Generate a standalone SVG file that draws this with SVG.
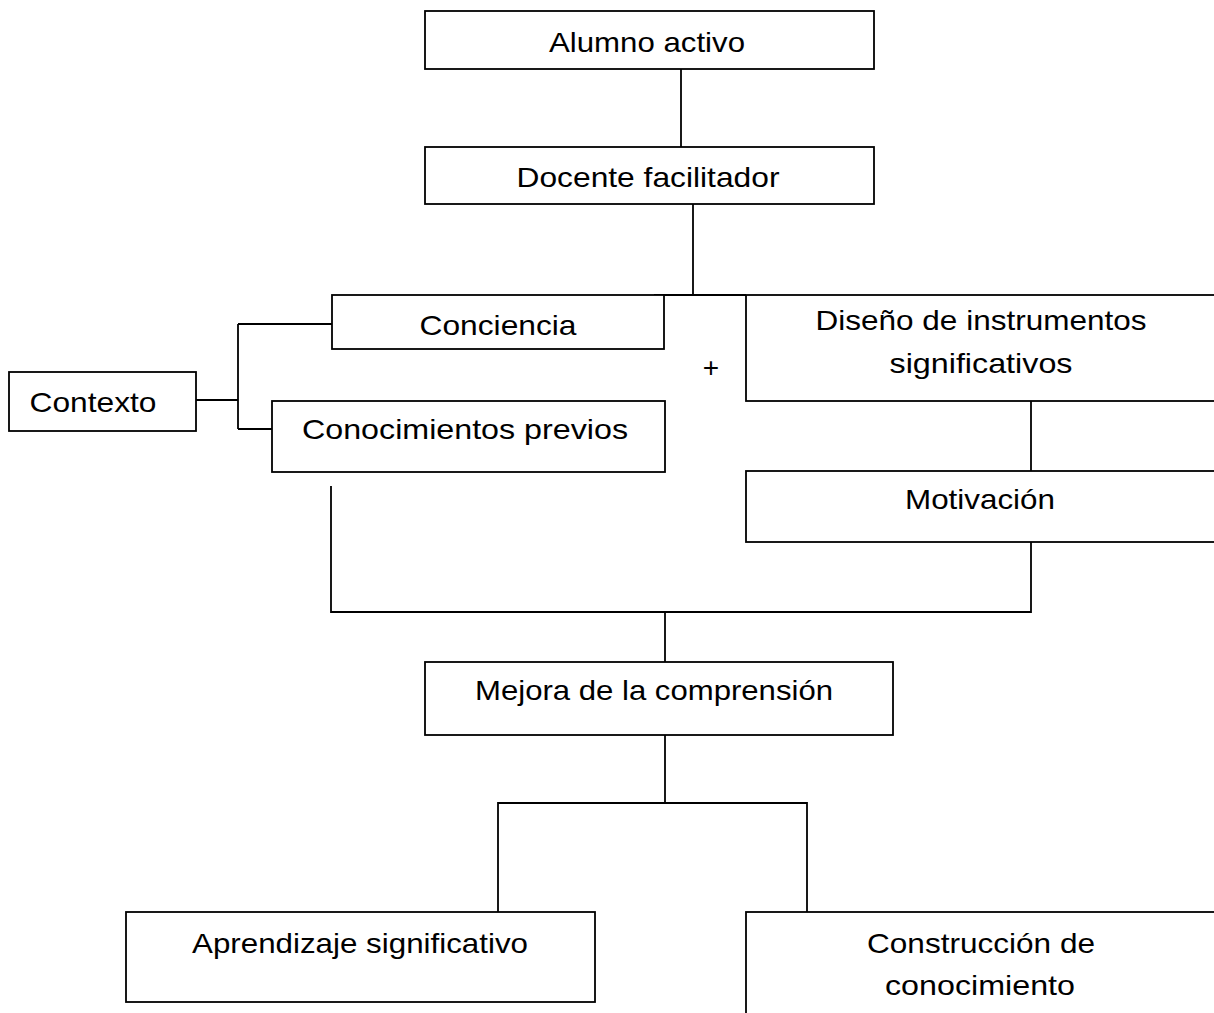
<svg xmlns="http://www.w3.org/2000/svg" width="1214" height="1013" viewBox="0 0 1214 1013">
<style>
.box{fill:#fff;stroke:#000;stroke-width:1.8}
.ln{fill:none;stroke:#000;stroke-width:1.8}
.t{font-family:"Liberation Sans",Arial,sans-serif;font-size:28px;fill:#000;text-anchor:middle}
</style>
<rect width="1214" height="1013" fill="#fff"/>
<g id="connectors">
<path class="ln" d="M681 69V147"/>
<path class="ln" d="M693 204V295"/>
<path class="ln" d="M654 295H746"/>
<path class="ln" d="M196 400H238M238 324V429M238 324H332M238 429H272"/>
<path class="ln" d="M1031 401V473"/>
<path class="ln" d="M331 486V612H1031V542"/>
<path class="ln" d="M665 612V662"/>
<path class="ln" d="M665 735V803"/>
<path class="ln" d="M498 912V803H807V912"/>
</g>
<g id="alumno"><rect class="box" x="425" y="11" width="449" height="58"/><text class="t" x="647" y="52" textLength="196" lengthAdjust="spacingAndGlyphs">Alumno activo</text></g>
<g id="docente"><rect class="box" x="425" y="147" width="449" height="57"/><text class="t" x="648" y="187" textLength="263" lengthAdjust="spacingAndGlyphs">Docente facilitador</text></g>
<g id="conciencia"><rect class="box" x="332" y="295" width="332" height="54"/><text class="t" x="498" y="335" textLength="157" lengthAdjust="spacingAndGlyphs">Conciencia</text></g>
<g id="diseno"><rect class="box" x="746" y="295" width="480" height="106"/><text class="t" x="981" y="330" textLength="331" lengthAdjust="spacingAndGlyphs">Diseño de instrumentos</text><text class="t" x="981" y="373" textLength="183" lengthAdjust="spacingAndGlyphs">significativos</text></g>
<g id="plus"><text class="t" x="711" y="377">+</text></g>
<g id="contexto"><rect class="box" x="9" y="372" width="187" height="59"/><text class="t" x="93" y="412" textLength="127" lengthAdjust="spacingAndGlyphs">Contexto</text></g>
<g id="conocimientos"><rect class="box" x="272" y="401" width="393" height="71"/><text class="t" x="465" y="439" textLength="326" lengthAdjust="spacingAndGlyphs">Conocimientos previos</text></g>
<g id="motivacion"><rect class="box" x="746" y="471" width="480" height="71"/><text class="t" x="980" y="509" textLength="150" lengthAdjust="spacingAndGlyphs">Motivación</text></g>
<g id="mejora"><rect class="box" x="425" y="662" width="468" height="73"/><text class="t" x="654" y="700" textLength="358" lengthAdjust="spacingAndGlyphs">Mejora de la comprensión</text></g>
<g id="aprendizaje"><rect class="box" x="126" y="912" width="469" height="90"/><text class="t" x="360" y="953" textLength="336" lengthAdjust="spacingAndGlyphs">Aprendizaje significativo</text></g>
<g id="construccion"><rect class="box" x="746" y="912" width="480" height="120"/><text class="t" x="981" y="953" textLength="228" lengthAdjust="spacingAndGlyphs">Construcción de</text><text class="t" x="980" y="995" textLength="190" lengthAdjust="spacingAndGlyphs">conocimiento</text></g>
</svg>
